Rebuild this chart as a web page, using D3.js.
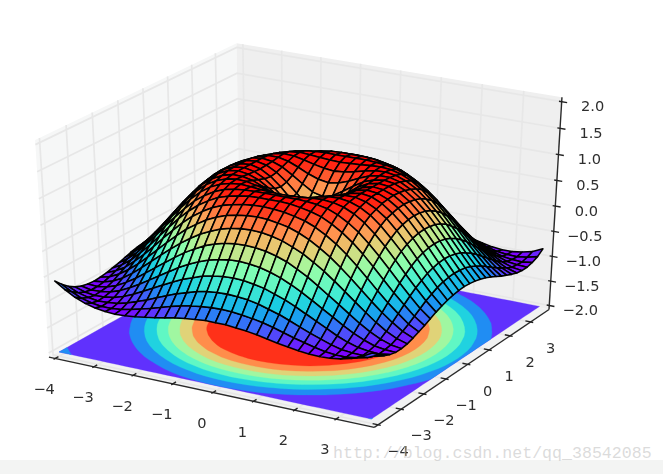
<!DOCTYPE html>
<html><head><meta charset="utf-8">
<style>html,body{margin:0;padding:0;background:#fff}svg{display:block}</style>
<script src="https://cdnjs.cloudflare.com/ajax/libs/d3/7.8.5/d3.min.js"></script>
</head><body><svg id="c" width="663" height="474"></svg>
<script>
// z read on the grid, one quadrant (distance from centre in grid steps); the surface is mirror-symmetric
const zQuadrant = [
[0,.25,.48,.68,.84,.95,1.00,.98,.91,.78,.60,.38,.14,-.11,-.35,-.57,-.76],
[.25,.35,.53,.71,.86,.96,1.00,.98,.90,.77,.59,.37,.13,-.12,-.36,-.58,-.76],
[.48,.53,.65,.78,.90,.97,1.00,.97,.88,.74,.56,.34,.10,-.15,-.38,-.60,-.78],
[.68,.71,.78,.87,.95,.99,.99,.94,.84,.70,.51,.29,.05,-.19,-.42,-.63,-.80],
[.84,.86,.90,.95,.99,1.00,.97,.90,.79,.63,.43,.22,-.02,-.26,-.48,-.67,-.83],
[.95,.96,.97,.99,1.00,.98,.93,.84,.71,.54,.34,.12,-.11,-.33,-.54,-.72,-.87],
[1.00,1.00,1.00,.99,.97,.93,.85,.74,.60,.42,.22,.01,-.21,-.42,-.62,-.78,-.91],
[.98,.98,.97,.94,.90,.84,.74,.62,.47,.29,.09,-.12,-.33,-.52,-.70,-.84,-.94],
[.91,.90,.88,.84,.79,.71,.60,.47,.31,.13,-.06,-.26,-.45,-.62,-.78,-.89,-.97],
[.78,.77,.74,.70,.63,.54,.42,.29,.13,-.04,-.22,-.40,-.57,-.72,-.85,-.94,-.99],
[.60,.59,.56,.51,.43,.34,.22,.09,-.06,-.22,-.38,-.54,-.69,-.82,-.92,-.98,-1.00],
[.38,.37,.34,.29,.22,.12,.01,-.12,-.26,-.40,-.54,-.68,-.80,-.90,-.97,-1.00,-.99],
[.14,.13,.10,.05,-.02,-.11,-.21,-.33,-.45,-.57,-.69,-.80,-.89,-.96,-.99,-1.00,-.96],
[-.11,-.12,-.15,-.19,-.26,-.33,-.42,-.52,-.62,-.72,-.82,-.90,-.96,-.99,-1.00,-.97,-.91],
[-.35,-.36,-.38,-.42,-.48,-.54,-.62,-.70,-.78,-.85,-.92,-.97,-.99,-1.00,-.97,-.92,-.83],
[-.57,-.58,-.60,-.63,-.67,-.72,-.78,-.84,-.89,-.94,-.98,-1.00,-1.00,-.97,-.92,-.83,-.72],
[-.76,-.76,-.78,-.80,-.83,-.87,-.91,-.94,-.97,-.99,-1.00,-.99,-.96,-.91,-.83,-.72,-.59]];
const gridStep = 0.25, gridStart = -4, gridCount = 32;
const xTicks = [-4,-3,-2,-1,0,1,2,3];
const yTicks = [-4,-3,-2,-1,0,1,2,3];
const zTicks = [-2,-1.5,-1,-0.5,0,0.5,1,1.5,2];
const zTickLabels = ["−2.0","−1.5","−1.0","−0.5","0.0","0.5","1.0","1.5","2.0"];
const contourLevels = [-1,-0.75,-0.5,-0.25,0,0.25,0.5,0.75];
const rainbowStops = ["#8000ff","#4d4ffc","#1a96f2","#1acee3","#4df2ce","#80ffb4","#b3f296","#e6ce74","#ff9650","#ff4f28","#ff0000"];
const watermark = "http://blog.csdn.net/qq_38542085";

const xLim=[-4,3.75], yLim=[-4,3.75], zLim=[-2,2];
const fmt = v => (v<0?"−":"")+Math.abs(v);
const svg = d3.select("#c");
svg.append("rect").attr("width",663).attr("height",474).attr("fill","#fff");
svg.append("rect").attr("y",460).attr("width",663).attr("height",14).attr("fill","#f3f4f3");
const chart = svg.append("g").style("filter","blur(0.6px)");

// camera
const el=30*Math.PI/180, az=-60*Math.PI/180, dist=10;
const n=[Math.cos(az)*Math.cos(el),Math.sin(az)*Math.cos(el),Math.sin(el)];
const u=[-Math.sin(az),Math.cos(az),0];
const v=[n[1]*u[2]-n[2]*u[1],n[2]*u[0]-n[0]*u[2],n[0]*u[1]-n[1]*u[0]];
const nx=d3.scaleLinear().domain(xLim).range([-.5,.5]);
const ny=d3.scaleLinear().domain(yLim).range([-.5,.5]);
const nz=d3.scaleLinear().domain(zLim).range([-.5,.5]);
const sx=d3.scaleLinear().domain([0,1]).range([303,303+3605]);
const sy=d3.scaleLinear().domain([0,1]).range([228.4,228.4-2378]);
function dot(a,b){return a[0]*b[0]+a[1]*b[1]+a[2]*b[2];}
function proj(x,y,z){
  const d=[nx(x),ny(y),nz(z)], depth=dot(n,d), w=dist-depth;
  return {x:sx(dot(u,d)/w), y:sy(dot(v,d)/w), depth};
}
const P=(x,y,z)=>{const p=proj(x,y,z);return [p.x,p.y];};
const line=d3.line();
const col=d3.scaleLinear().domain(d3.range(11).map(i=>-1+i*.2)).range(rainbowStops).interpolate(d3.interpolateRgb).clamp(true);

const xe=(xLim[1]-xLim[0])/48, ye=(yLim[1]-yLim[0])/48, ze=(zLim[1]-zLim[0])/48;
const x0=xLim[0]-xe,x1=xLim[1]+xe,y0=yLim[0]-ye,y1=yLim[1]+ye,z0=zLim[0]-ze,z1=zLim[1]+ze;

// panes
const panes=[
 {pts:[[x0,y0,z0],[x0,y1,z0],[x0,y1,z1],[x0,y0,z1]],fill:"#f6f7f7"},
 {pts:[[x0,y1,z0],[x1,y1,z0],[x1,y1,z1],[x0,y1,z1]],fill:"#efefef"},
 {pts:[[x0,y0,z0],[x1,y0,z0],[x1,y1,z0],[x0,y1,z0]],fill:"#f1f2f2"}];
chart.append("g").selectAll("path").data(panes).join("path")
 .attr("d",d=>line(d.pts.map(p=>P(...p)))+"Z").attr("fill",d=>d.fill);

// grid
const gridLines=[];
xTicks.forEach(t=>gridLines.push([[t,y0,z0],[t,y1,z0],[t,y1,z1]]));
yTicks.forEach(t=>gridLines.push([[x1,t,z0],[x0,t,z0],[x0,t,z1]]));
zTicks.forEach(t=>gridLines.push([[x0,y0,t],[x0,y1,t],[x1,y1,t]]));
chart.append("g").selectAll("path").data(gridLines).join("path")
 .attr("d",d=>line(d.map(p=>P(...p)))).attr("fill","none").attr("stroke","#e7e7e7").attr("stroke-width",1.7);

// values on the full grid
const gridX=d3.range(gridCount).map(i=>gridStart+i*gridStep);
const zAt=(i,j)=>zQuadrant[Math.abs(i-16)][Math.abs(j-16)];

// contour on the floor
const flat=[];
for(let j=0;j<gridCount;j++)for(let i=0;i<gridCount;i++)flat.push(zAt(i,j));
const contours=d3.contours().size([gridCount,gridCount]).thresholds(contourLevels)(flat);
const cl=c=>Math.max(0,Math.min(gridCount-1,c-0.5));
const toData=c=>gridStart+cl(c)*gridStep;
chart.append("g").selectAll("path").data(contours).join("path")
 .attr("fill",d=>col(d.value+0.125)).attr("fill-rule","evenodd").attr("stroke",d=>col(d.value+0.125)).attr("stroke-width",0.3)
 .attr("d",d=>d.coordinates.map(poly=>poly.map(ring=>line(ring.map(c=>P(toData(c[0]),toData(c[1]),zLim[0])))+"Z").join("")).join(""));

// axes
const axes=[[[x0,y0,z0],[x1,y0,z0]],[[x1,y0,z0],[x1,y1,z0]],[[x1,y1,z0],[x1,y1,z1]]];
chart.append("g").selectAll("path").data(axes).join("path")
 .attr("d",d=>line(d.map(p=>P(...p)))).attr("stroke","#2a2a2a").attr("stroke-width",1.4).attr("fill","none");
const tOut=.1/12, tIn=.2/12;
const ticks=[];
const dy=yLim[1]-yLim[0], dx=xLim[1]-xLim[0];
xTicks.forEach(t=>ticks.push([[t,y0-dy*tOut,z0],[t,y0+dy*tIn,z0]]));
yTicks.forEach(t=>ticks.push([[x1+dx*tOut,t,z0],[x1-dx*tIn,t,z0]]));
zTicks.forEach(t=>ticks.push([[x1+dx*tIn,y1,t],[x1-dx*tOut,y1,t]]));
chart.append("g").selectAll("path").data(ticks).join("path")
 .attr("d",d=>line(d.map(p=>P(...p)))).attr("stroke","#222").attr("stroke-width",1.4);

// tick labels
const labels=[];
xTicks.forEach(t=>{const p=P(t,y0,z0);labels.push({s:fmt(t),x:p[0]-11,y:p[1]+30});});
yTicks.forEach(t=>{const p=P(x1,t,z0);labels.push({s:fmt(t),x:p[0]+20,y:p[1]+26});});
zTicks.forEach((t,i)=>{const p=P(x1,y1,t);labels.push({s:zTickLabels[i],x:p[0]+31,y:p[1]+4.5});});
chart.append("g").selectAll("text").data(labels).join("text")
 .attr("x",d=>d.x).attr("y",d=>d.y).attr("dy","0.36em").attr("text-anchor","middle")
 .attr("font-family","DejaVu Sans").attr("font-size",14.6).attr("fill","#2e2e2e").text(d=>d.s);

// surface
const cells=[];
for(let i=0;i<gridCount-1;i++)for(let j=0;j<gridCount-1;j++){
  const c=[[i,j],[i+1,j],[i+1,j+1],[i,j+1]].map(([a,b])=>({x:gridX[a],y:gridX[b],z:zAt(a,b)}));
  const pr=c.map(q=>proj(q.x,q.y,q.z));
  cells.push({pts:pr.map(p=>[p.x,p.y]),depth:d3.mean(pr,p=>p.depth),z:d3.mean(c,q=>q.z)});
}
cells.sort((a,b)=>a.depth-b.depth);
chart.append("g").selectAll("path").data(cells).join("path")
 .attr("d",d=>line(d.pts)+"Z").attr("fill",d=>col(d.z)).attr("stroke","#000").attr("stroke-width",1.55).attr("stroke-linejoin","round");

// watermark
svg.append("text").attr("x",333).attr("y",458).attr("font-family","Liberation Mono").attr("font-size",16.6)
 .attr("fill","#c4c4c4").attr("fill-opacity",0.6).text(watermark);
</script></body></html>
